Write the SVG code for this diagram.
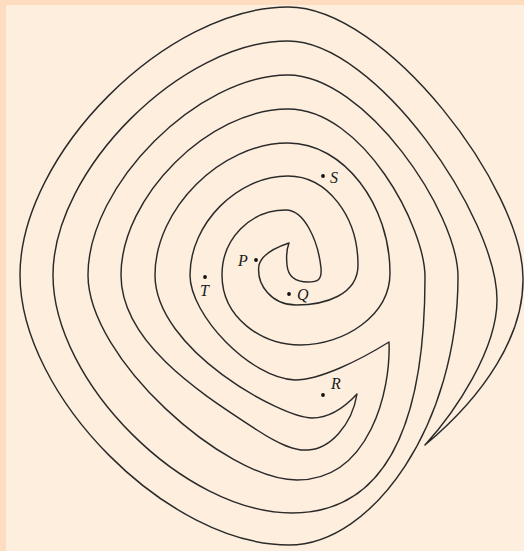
<svg xmlns="http://www.w3.org/2000/svg" width="524" height="551" viewBox="0 0 524 551">
<style>
.curve{fill:none;stroke:#2a2a2a;stroke-width:1.45;stroke-linejoin:round}
.dot{fill:#111}
.lbl{font-family:"Liberation Serif","DejaVu Serif",serif;font-style:italic;font-size:16px;fill:#1a1a1a}
</style>
<rect x="0" y="0" width="524" height="551" fill="#fddcbf"/>
<rect x="6" y="5" width="518" height="546" fill="#fdeede"/>
<g id="curve">
<path class="curve" d="M 425,445
C 455,412 497,350 497,300
C 497,217 376,41 288,41
C 182,41 53,170 53,275
C 53,382 184,513 292,513
C 381,513 425,433 425,277
C 425,227 363,109 288,109
C 209,109 121,197 121,275
C 121,345 207,397 257,430
C 280,445 295,451 308,450
C 330,449 352,425 357,394
C 345,407 330,418 312,418
C 282,418 155,350 155,275
C 155,209 221,143 288,143
C 344,143 390,205 390,273
C 390,315 345,345 300,345
C 262,345 222,318 222,275
C 222,239 250,210 286,210
C 304,210 318,240 321,268
C 322,280 318,282 308,282
C 295,282 288,276 287,265
C 286,255 287,248 289,243
C 277,247 262,254 259,265
C 256,285 272,305 296,305
C 325,305 358,295 358,265
C 358,216 327,176 288,176
C 237,176 190,224 190,275
C 190,315 250,378 295,380
C 320,380 360,360 389,342
C 391,390 370,480 297,480
C 225,480 88,358 88,275
C 88,185 198,75 288,75
C 365,75 458,212 458,277
C 458,424 373,545 289,545
C 168,545 20,396 20,275
C 20,154 167,7 288,7
C 387,7 523,189 523,278
C 524,335 485,395 425,445 Z"/>
</g>
<g id="point-S"><circle class="dot" cx="323" cy="176" r="1.9"/><text class="lbl" x="330" y="183">S</text></g>
<g id="point-P"><circle class="dot" cx="256" cy="260" r="1.9"/><text class="lbl" x="238" y="266">P</text></g>
<g id="point-T"><circle class="dot" cx="205" cy="277" r="1.9"/><text class="lbl" x="200" y="296">T</text></g>
<g id="point-Q"><circle class="dot" cx="289" cy="294" r="1.9"/><text class="lbl" x="297" y="300">Q</text></g>
<g id="point-R"><circle class="dot" cx="323" cy="395" r="1.9"/><text class="lbl" x="331" y="389">R</text></g>
</svg>
